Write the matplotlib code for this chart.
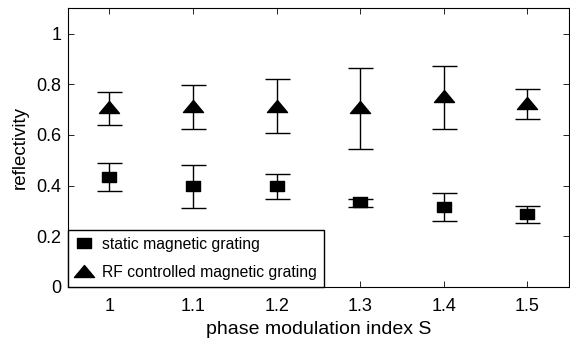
import matplotlib.pyplot as plt
import numpy as np
from matplotlib.path import Path
from matplotlib.ticker import FormatStrFormatter

plt.rcParams["font.family"] = ["Liberation Sans", "DejaVu Sans"]

s_index = [1.0, 1.1, 1.2, 1.3, 1.4, 1.5]

static_val = [0.435, 0.398, 0.398, 0.334, 0.317, 0.289]
static_hi = [0.488, 0.481, 0.444, 0.348, 0.370, 0.321]
static_lo = [0.379, 0.312, 0.348, 0.317, 0.260, 0.254]

rf_val = [0.712, 0.714, 0.716, 0.711, 0.752, 0.728]
rf_hi = [0.769, 0.798, 0.822, 0.865, 0.873, 0.782]
rf_lo = [0.639, 0.622, 0.606, 0.543, 0.622, 0.664]

x_ticks = [1, 1.1, 1.2, 1.3, 1.4, 1.5]
y_ticks = [0, 0.2, 0.4, 0.6, 0.8, 1.0]

# flattened markers like the original MATLAB figure
rect = Path([(-1, -0.78), (1, -0.78), (1, 0.78), (-1, 0.78), (-1, -0.78)],
            [Path.MOVETO, Path.LINETO, Path.LINETO, Path.LINETO, Path.CLOSEPOLY])
tri = Path([(-1, -0.6), (1, -0.6), (0, 0.6), (-1, -0.6)],
           [Path.MOVETO, Path.LINETO, Path.LINETO, Path.CLOSEPOLY])

fig = plt.figure(figsize=(5.7, 3.43), dpi=100)
ax = fig.add_axes([0.1188, 0.1633, 0.8795, 0.8125])

for val, lo, hi in [(static_val, static_lo, static_hi), (rf_val, rf_lo, rf_hi)]:
    val = np.array(val)
    yerr = [val - np.array(lo), np.array(hi) - val]
    ax.errorbar(s_index, val, yerr=yerr, fmt="none", ecolor="black",
                elinewidth=1.0, capsize=9, capthick=1.0)

ax.plot(s_index, static_val, ls="none", marker=rect, ms=10, color="black",
        label="static magnetic grating")
ax.plot(s_index, rf_val, ls="none", marker=tri, ms=14.4, color="black",
        label="RF controlled magnetic grating")

ax.set_xlim(0.95, 1.55)
ax.set_ylim(0, 1.1)
ax.set_xticks(x_ticks)
ax.set_yticks(y_ticks)
ax.xaxis.set_major_formatter(FormatStrFormatter("%g"))
ax.yaxis.set_major_formatter(FormatStrFormatter("%g"))
ax.tick_params(direction="in", top=True, right=True, length=4, width=0.6,
               labelsize=13)
ax.tick_params(axis="x", pad=8)
ax.tick_params(axis="y", pad=4.7)
for sp in ax.spines.values():
    sp.set_linewidth(0.8)

ax.set_xlabel("phase modulation index S", fontsize=14, labelpad=4)
ax.set_ylabel("reflectivity", fontsize=13.5, labelpad=5)

leg = ax.legend(loc="lower left", borderaxespad=0, fancybox=False,
                edgecolor="black", framealpha=1, fontsize=11.3, numpoints=1,
                handlelength=1.2, handletextpad=0.55, labelspacing=0.85,
                borderpad=0.45)
leg.get_frame().set_linewidth(1.0)

fig.savefig("out.png", dpi=100)
